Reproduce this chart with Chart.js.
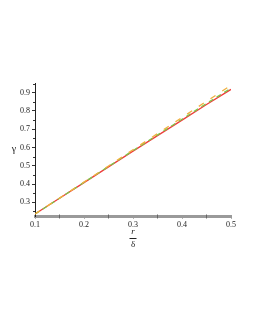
<!DOCTYPE html>
<html>
<head>
<meta charset="UTF-8" />
<script src="https://cdn.jsdelivr.net/npm/chart.js"></script>
<style>
  body { margin: 0; background: #fff; }
  canvas { display: block; }
</style>
</head>
<body>
<canvas id="grafico" width="255" height="330"></canvas>
<script>
  // r/delta values
  const xs = [0.1, 0.15, 0.2, 0.25, 0.3, 0.35, 0.4, 0.45, 0.5];
  // gamma curves
  const redVals = [0.236, 0.322, 0.408, 0.494, 0.580, 0.665, 0.750, 0.835, 0.918];
  const greenVals = [0.236, 0.322, 0.409, 0.496, 0.583, 0.669, 0.755, 0.841, 0.925];
  const orangeVals = [0.236, 0.323, 0.411, 0.499, 0.588, 0.676, 0.764, 0.853, 0.940];
  const xTicks = [0.1, 0.2, 0.3, 0.4, 0.5];
  const xMinor = [0.15, 0.25, 0.35, 0.45];
  const yTicks = [0.3, 0.4, 0.5, 0.6, 0.7, 0.8, 0.9];
  const yMinor = [0.25, 0.35, 0.45, 0.55, 0.65, 0.75, 0.85, 0.95];

  const pts = (vals) => xs.map((x, i) => ({ x: x, y: vals[i] }));
  const serif = { family: "'Liberation Serif', 'DejaVu Serif', serif", size: 8 };

  // minor ticks and axis titles
  const extras = {
    id: "extras",
    afterDraw(chart) {
      const ctx = chart.ctx;
      const sx = chart.scales.x, sy = chart.scales.y;
      const a = chart.chartArea;
      ctx.save();
      ctx.strokeStyle = "#333";
      ctx.lineWidth = 1;
      yMinor.forEach((v) => {
        const p = Math.round(sy.getPixelForValue(v)) + 0.5;
        if (p < a.top) return;
        ctx.beginPath();
        ctx.moveTo(a.left - 2, p);
        ctx.lineTo(a.left, p);
        ctx.stroke();
      });
      ctx.strokeStyle = "#666";
      xMinor.forEach((v) => {
        const p = Math.round(sx.getPixelForValue(v)) + 0.5;
        ctx.beginPath();
        ctx.moveTo(p, a.bottom - 2);
        ctx.lineTo(p, a.bottom + 2);
        ctx.stroke();
      });
      ctx.fillStyle = "#222";
      ctx.font = "10px 'Liberation Serif', serif";
      ctx.textAlign = "center";
      ctx.textBaseline = "middle";
      ctx.fillText("γ", 14, sy.getPixelForValue(0.6) + 2);
      const cx = sx.getPixelForValue(0.3);
      ctx.font = "italic 9px 'Liberation Serif', serif";
      ctx.fillText("r", cx, 232);
      ctx.font = "9px 'Liberation Serif', serif";
      ctx.fillText("δ", cx, 245);
      ctx.strokeStyle = "#222";
      ctx.beginPath();
      ctx.moveTo(cx - 3.5, 238.5);
      ctx.lineTo(cx + 3.5, 238.5);
      ctx.stroke();
      ctx.restore();
    },
  };

  new Chart(document.getElementById("grafico"), {
    type: "scatter",
    data: {
      datasets: [
        {
          data: pts(orangeVals),
          showLine: true,
          borderColor: "#f0b040",
          borderWidth: 1.3,
          borderDash: [6, 8],
          pointRadius: 0,
        },
        {
          data: pts(greenVals),
          showLine: true,
          borderColor: "#7cc84a",
          borderWidth: 1.3,
          borderDash: [5, 4],
          pointRadius: 0,
        },
        {
          data: pts(redVals),
          showLine: true,
          borderColor: "#f03a3a",
          borderWidth: 1.3,
          pointRadius: 0,
        },
      ],
    },
    options: {
      responsive: false,
      animation: false,
      events: [],
      layout: { padding: { top: 83, right: 24, left: 0, bottom: 90 } },
      plugins: { legend: { display: false }, tooltip: { enabled: false } },
      scales: {
        x: {
          type: "linear",
          min: 0.1,
          max: 0.5,
          afterBuildTicks: (s) => { s.ticks = xTicks.map((v) => ({ value: v })); },
          afterFit: (s) => { s.height = 23.5; },
          grid: { drawOnChartArea: false, tickLength: 2, color: "#666" },
          border: { color: "#9a9a9a", width: 3 },
          ticks: { font: serif, color: "#222", padding: 2, maxRotation: 0, callback: (v) => String(v) },
        },
        y: {
          type: "linear",
          min: 0.2225,
          max: 0.953,
          afterBuildTicks: (s) => { s.ticks = yTicks.map((v) => ({ value: v })); },
          afterFit: (s) => { s.width = 35; },
          grid: { drawOnChartArea: false, tickLength: 3, color: "#333" },
          border: { color: "#222", width: 1 },
          ticks: { font: serif, color: "#222", padding: 2, callback: (v) => String(v) },
        },
      },
    },
    plugins: [extras],
  });
</script>
</body>
</html>
